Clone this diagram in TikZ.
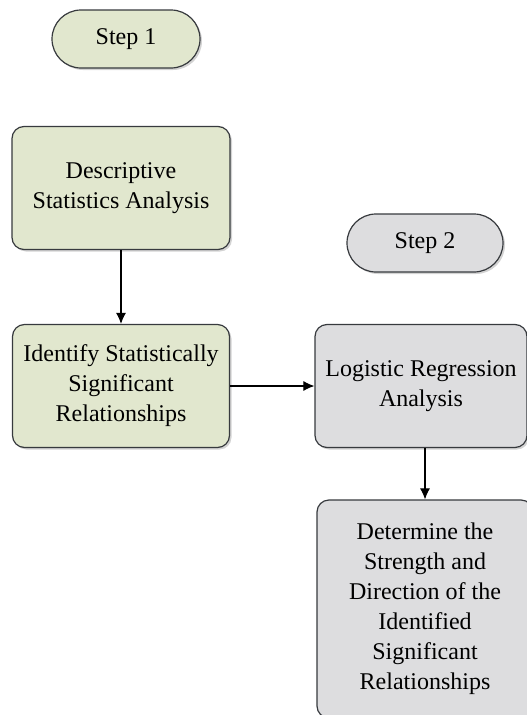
\documentclass[tikz,border=0pt]{standalone}
\usepackage{fontspec}
\setmainfont{Liberation Serif}
\usetikzlibrary{arrows.meta,shadows}
\definecolor{stepgreen}{RGB}{225,231,206}
\definecolor{stepgray}{RGB}{221,221,223}
\definecolor{edgegray}{RGB}{55,58,62}

\begin{document}
\begin{tikzpicture}[x=1pt, y=-1pt,
  stage/.style={draw=edgegray, line width=1.2pt, rounded corners=12pt,
    align=center, inner sep=0pt, font=\fontsize{24}{30}\selectfont,
    drop shadow={shadow xshift=2pt, shadow yshift=-2pt, opacity=0.35}},
  pill/.style={stage, rounded corners=29pt, minimum height=58pt},
  flow/.style={-{Latex[length=11pt,width=10pt]}, line width=1.1pt}]
\useasboundingbox (0,0) rectangle (527,715);
\clip (0,0) rectangle (527,715);
% step labels
\node[pill, fill=stepgreen, minimum width=148pt] (stepone) at (126,39) {Step 1};
\node[pill, fill=stepgray, minimum width=156pt] (steptwo) at (425,243) {Step 2};
% first step
\node[stage, fill=stepgreen, minimum width=218pt, minimum height=123pt] (descr) at (121,188)
  {Descriptive\\Statistics Analysis};
\node[stage, fill=stepgreen, minimum width=217pt, minimum height=123pt] (ident) at (121,386)
  {Identify Statistically\\Significant\\Relationships};
% second step
\node[stage, fill=stepgray, minimum width=212pt, minimum height=123pt] (logit) at (421,386)
  {Logistic Regression\\Analysis};
\node[stage, fill=stepgray, minimum width=216pt, minimum height=218pt] (strength) at (425,609)
  {Determine the\\Strength and\\Direction of the\\Identified\\Significant\\Relationships};
\draw[flow] (descr) -- (ident);
\draw[flow] (ident) -- (logit);
\draw[flow] (logit.south -| strength.north) -- (strength);
\end{tikzpicture}
\end{document}
